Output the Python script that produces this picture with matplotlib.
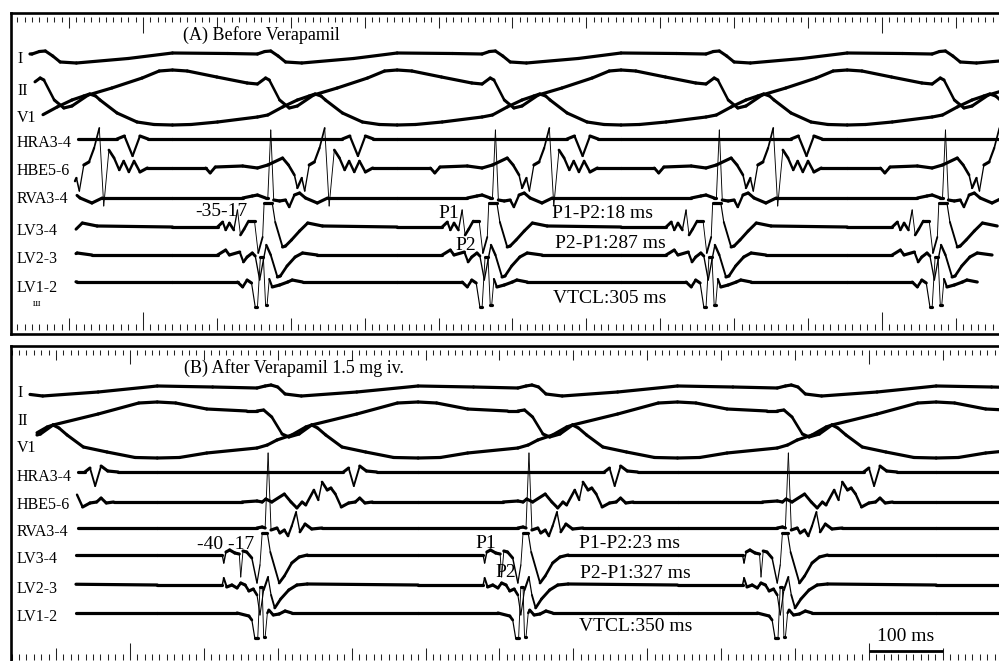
import numpy as np
import matplotlib
matplotlib.use("Agg")
import matplotlib.pyplot as plt
from matplotlib.collections import LineCollection

plt.rcParams['font.family'] = ['Liberation Serif', 'DejaVu Serif']

PX_PER_MS = 0.739          # paper speed of the strip, pixels per ms

CHANNEL_NAMES = ["I", "II", "V1", "HRA3-4", "HBE5-6", "RVA3-4",
                 "LV3-4", "LV2-3", "LV1-2"]

# ---------------------------------------------------------------- panel A
A_TITLE = "(A) Before Verapamil"
A_BEATS = [50, 355, 659, 962, 1268]      # LV1-2 deflection of each beat (ms)

# one beat per channel: ms from the LV1-2 deflection, amplitude in px (up)
A_I_T = [-115, -40, 0, 10, 18, 28, 38, 60, 130]
A_I_V = [4, 3.5, 3, 5.5, 6, 1, -5, -6, -1.5]
A_II_T = [-115, -95, -55, -14, 0, 11, 16, 30, 43, 54, 76, 108, 149, 172]
A_II_V = [20, 19, 13, 7, 6, 12, 10, -10, -18, -16, -5, 2, 12, 19]
A_V1_T = [-115, -90, -54, 0, 14, 34, 54, 70, 78, 86, 92, 115, 142, 165]
A_V1_V = [-8, -7.5, -5, 0, 2, 10, 17, 21, 23, 21, 17, 4, -5, -7.5]
A_HRA_T = [-115, 115, 125, 136, 146, 157]
A_HRA_V = [0, 0, 3, -17, 3, 0]
A_HBE_T = [-115, -70, -64, -57, -20, 0, 14, 34, 42, 50, 54, 60, 64, 70, 77,
           84, 91, 97, 104, 111, 118, 124, 131, 138, 146, 156]
A_HBE_V = [0, 0, -5, 1, 2, 0, 3, 10, 3, -7, -20, -10, -23, 3, 6,
           20, 40, -38, 18, 10, -2, 7, -4, 7, -4, 0]
A_RVA_T = [-115, -20, -7, 0, 11, 14, 18, 22, 30, 38, 43, 50, 57, 65, 81, 95]
A_RVA_V = [0, 0, 2, 3, 0, 0, 68, -2, -3, -2, -9, 3, 5, 0, -5, 0]
A_LV34_T = [-115, -54, -47, -43, -38, -32, -27, -23, -18, -12, -4, 1, 7, 9,
            20, 24, 34, 38, 46, 57, 68, 88]
A_LV34_V = [0, 0, 5, -3, 4, -3, 17, -8, -2, 6, 6, -26, -10, 24,
            24, 5, -20, -19, -13, -4, 4, 1]
A_LV23_T = [-115, -54, -43, -38, -24, -19, -14, -7, -3, 3, 8, 12, 18, 27,
            31, 40, 51, 61, 81]
A_LV23_V = [0, 0, 5, 0, 3, -7, -2, 2, -1, -25, -5, 10, 0, -22,
            -21, -11, -2, 2, 0]
A_LV12_T = [-115, -27, -20, -14, -8, -3, 0, 4, 8, 11, 13, 16, 20, 30, 41,
            47, 61]
A_LV12_V = [0, 0, -5, 2, -1, -25, -25, 25, 25, -23, -23, 3, -5, -3, 0,
            2, 0]
A_NOTES = ["-35-17", "P1", "P2", "P1-P2:18 ms", "P2-P1:287 ms",
           "VTCL:305 ms"]

# ---------------------------------------------------------------- panel B
B_TITLE = "(B) After Verapamil 1.5 mg iv."
B_BEATS = [22, 372, 725, 1076, 1426]

B_I_T = [-135, -60, 0, 11, 19, 28, 38, 60, 135]
B_I_V = [6, 5, 4, 6, 7, 5, -2, -4, 0]
B_II_T = [-135, -110, -68, -14, 0, 9, 20, 34, 43, 57, 74, 135, 190]
B_II_V = [18, 17, 11, 9, 9, 10, 3, -14, -17, -14, -5, 6, 17]
B_V1_T = [-135, -105, -68, 0, 14, 27, 47, 66, 74, 82, 93, 115, 147, 185]
B_V1_V = [-11, -10.5, -6, -1, 2, 7, 12, 20, 22, 19, 12, 0, -5, -10.5]
B_HRA_T = [-135, 117, 124, 131, 139, 148, 162]
B_HRA_V = [0, 0, 4, -14, 6, 1, 0]
B_HBE_T = [-135, -20, 0, 7, 12, 20, 37, 46, 54, 61, 66, 77, 83, 88, 95,
           100, 106, 114, 124, 133, 139, 146, 156]
B_HBE_V = [0, 0, 1, 0, 3, 0, 8, 0, -6, 0, -3, 12, 2, 20, 12,
           14, 8, -5, -1, 0, 4, -1, 0]
B_RVA_T = [-135, 0, 7, 11, 15, 19, 27, 31, 37, 42, 47, 53, 58, 65, 74, 88]
B_RVA_V = [0, 0, 1, 0, 75, -2, 0, -5, -2, -8, 2, 16, -4, 4, -1, 0]
B_LV34_T = [-135, -47, -45, -42, -37, -30, -24, -22, -19, -14, -7, 0, 4, 7,
            14, 18, 30, 37, 47, 57, 68]
B_LV34_V = [0, 0, -8, 3, 5, 2, 1, -22, 4, 3, -3, -28, -10, 22,
            22, 3, -28, -21, -8, -2, 0]
B_LV23_T = [-135, -47, -45, -41, -34, -27, -22, -16, -11, -5, 0, 4, 9, 15,
            19, 24, 32, 43, 54, 68]
B_LV23_V = [0, 0, 7, -2, 0, -3, 2, 0, -6, -4, -10, -30, -5, 8,
            -10, -23, -14, -5, 0, 1]
B_LV12_T = [-135, -27, -11, -7, -3, 1, 4, 7, 9, 11, 14, 16, 22, 30, 38, 47]
B_LV12_V = [0, 0, -3, -7, -25, -25, 26, 26, -24, -24, 0, 3, -2, -1, 2, 0]
B_NOTES = ["-40 -17", "P1", "P2", "P1-P2:23 ms", "P2-P1:327 ms",
           "VTCL:350 ms"]
SCALE_MS = 100
SCALE_START = 1200

A_CHANNELS = [(A_I_T, A_I_V), (A_II_T, A_II_V), (A_V1_T, A_V1_V),
              (A_HRA_T, A_HRA_V), (A_HBE_T, A_HBE_V), (A_RVA_T, A_RVA_V),
              (A_LV34_T, A_LV34_V), (A_LV23_T, A_LV23_V),
              (A_LV12_T, A_LV12_V)]
B_CHANNELS = [(B_I_T, B_I_V), (B_II_T, B_II_V), (B_V1_T, B_V1_V),
              (B_HRA_T, B_HRA_V), (B_HBE_T, B_HBE_V), (B_RVA_T, B_RVA_V),
              (B_LV34_T, B_LV34_V), (B_LV23_T, B_LV23_V),
              (B_LV12_T, B_LV12_V)]

# ---------------------------------------------------------------- layout (px)
FIG_W, FIG_H = 999, 661
BOX_LEFT = 11
PANELS = {
    'A': dict(box=(13, 334), t0=21.5,
              base=[57, 90, 117, 139, 168, 198, 227, 255, 282],
              label_y=[63, 95, 122, 147, 175, 203, 235, 263, 292],
              start=[30, 35, 43, 78, 75, 77, 76, 76, 76],
              title=(183, 40),
              notes=[(195, 216), (438, 218), (455, 250), (552, 218),
                     (555, 248), (553, 303)],
              top=(17, 5, 11, 16), bottom=(330, 6, 12, 18)),
    'B': dict(box=(346, 670), t0=39.1,
              base=[392, 420, 447, 472, 502, 528, 555, 585, 613],
              label_y=[397, 425, 452, 481, 509, 536, 563, 593, 621],
              start=[30, 37, 37, 78, 77, 78, 76, 76, 76],
              title=(184, 373),
              notes=[(197, 549), (475, 548), (495, 577), (579, 548),
                     (580, 578), (579, 631)],
              top=(350, 5, 10, 14), bottom=(660, 6, 12, 17)),
}
LONG_TICKS = [200, 1200]


def ms_at(t0, x):
    return t0 + (x - BOX_LEFT) / PX_PER_MS


def tile(beats, t_tpl, v_tpl, t_start):
    t = np.concatenate([np.asarray(t_tpl, float) + b for b in beats])
    v = np.concatenate([np.asarray(v_tpl, float) for _ in beats])
    v0 = np.interp(t_start, t, v)
    keep = t > t_start
    return np.r_[t_start, t[keep]], np.r_[v0, v[keep]]


def draw_trace(ax, t, v, base):
    y = base - v
    pts = np.column_stack([t, y])
    segs = np.stack([pts[:-1], pts[1:]], axis=1)
    slope = np.abs(np.diff(y)) / np.maximum(np.diff(t) * PX_PER_MS, 1e-6)
    # fast pen strokes come out thin on the recorder paper
    lw = np.clip(2.3 / np.sqrt(1 + (slope / 2.5) ** 2), 0.65, 2.3)
    lc = LineCollection(segs, linewidths=lw, colors='black',
                        capstyle='round', joinstyle='round')
    ax.add_collection(lc)


def draw_ruler(ax, t_lo, t_hi, y0, minor, major, longer, direction):
    ticks = np.arange(np.ceil(t_lo / 10) * 10, t_hi, 10)
    for tk in ticks:
        k = int(round(tk))
        if k in LONG_TICKS:
            ln = longer
        elif k % 100 == 0:
            ln = major
        else:
            ln = minor
        ax.plot([tk, tk], [y0, y0 + direction * ln], color='#222',
                lw=0.75, solid_capstyle='butt')


fig = plt.figure(figsize=(FIG_W / 100, FIG_H / 100), dpi=100)

for key, title, beats, channels, notes in [
        ('A', A_TITLE, A_BEATS, A_CHANNELS, A_NOTES),
        ('B', B_TITLE, B_BEATS, B_CHANNELS, B_NOTES)]:
    p = PANELS[key]
    top, bot = p['box']
    ax = fig.add_axes([BOX_LEFT / FIG_W, 1 - bot / FIG_H,
                       (FIG_W - BOX_LEFT) / FIG_W, (bot - top) / FIG_H])
    t0 = p['t0']
    t1 = ms_at(t0, FIG_W)
    ax.set_xlim(t0, t1)
    ax.set_ylim(bot, top)
    ax.set_xticks([])
    ax.set_yticks([])
    ax.spines['right'].set_visible(False)
    for s in ('top', 'left', 'bottom'):
        ax.spines[s].set_linewidth(1.9)

    y0, mn, mj, lg = p['top']
    draw_ruler(ax, t0, t1, y0, mn, mj, lg, +1)
    y0, mn, mj, lg = p['bottom']
    draw_ruler(ax, t0, t1, y0, mn, mj, lg, -1)

    for (tt, vv), base, xs in zip(channels, p['base'], p['start']):
        t, v = tile(beats, tt, vv, ms_at(t0, xs))
        draw_trace(ax, t, v, base)

    for name, ly in zip(CHANNEL_NAMES, p['label_y']):
        ax.text(ms_at(t0, 17), ly, name, fontsize=11.5, va='baseline',
                ha='left')

    tx, ty = p['title']
    ax.text(ms_at(t0, tx), ty, title, fontsize=13, va='baseline', ha='left')
    for s, (nx, ny) in zip(notes, p['notes']):
        ax.text(ms_at(t0, nx), ny, s, fontsize=14, va='baseline', ha='left')

    if key == 'A':
        # small pen mark under the LV1-2 label
        ax.text(ms_at(t0, 33), 306, "ш", fontsize=7, va='baseline',
                ha='left')
    else:
        ax.plot([SCALE_START, SCALE_START + SCALE_MS], [651, 651],
                color='black', lw=2.0, solid_capstyle='butt')
        ax.text(ms_at(t0, 877), 641, "%d ms" % SCALE_MS, fontsize=14,
                va='baseline', ha='left')

fig.savefig("out.png", dpi=100)
